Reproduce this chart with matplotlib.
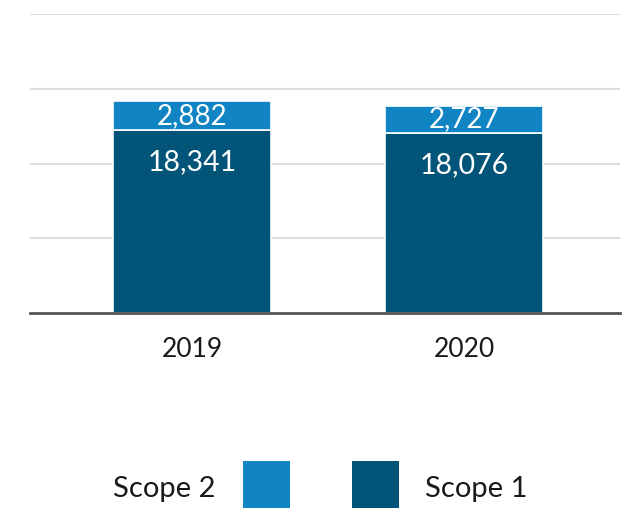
import matplotlib
matplotlib.use("Agg")
import matplotlib.pyplot as plt
from matplotlib.patches import Rectangle

plt.rcParams['font.family'] = ['Lato', 'DejaVu Sans']

years = ["2019", "2020"]
scope1 = [18341, 18076]
scope2 = [2882, 2727]
labels_s1 = ["18,341", "18,076"]
labels_s2 = ["2,882", "2,727"]
series_names = ["Scope 2", "Scope 1"]
c_s1 = "#025578"
c_s2 = "#1185C4"

fig = plt.figure(figsize=(6.34, 5.08), dpi=100)
ax = fig.add_axes([30/634, 1-313/508, 590/634, 299/508])

x = list(range(len(years)))
w = 0.58
ax.bar(x, scope1, width=w, color=c_s1, edgecolor="white", linewidth=1.2, zorder=3)
ax.bar(x, scope2, width=w, bottom=scope1, color=c_s2, edgecolor="white", linewidth=1.2, zorder=3)

for xi, s1, s2, l1, l2 in zip(x, scope1, scope2, labels_s1, labels_s2):
    ax.text(xi, s1 + s2/2, l2, ha="center", va="center", color="white", fontsize=20, zorder=4)
    ax.annotate(l1, (xi, s1), xytext=(0, -23), textcoords="offset points",
                ha="center", va="center", color="white", fontsize=20.5, zorder=4)

ax.set_xlim(-0.596, 1.574)
ax.set_ylim(0, 30000)
ax.set_yticks([7500, 15000, 22500, 30000])
ax.yaxis.grid(True, color="#dddddd", linewidth=1.5, zorder=0)
ax.set_axisbelow(True)
ax.tick_params(axis="y", left=False, labelleft=False)
ax.tick_params(axis="x", bottom=False, labelsize=19, labelcolor="#1a1a1a", pad=14)
ax.set_xticks(x)
ax.set_xticklabels(years)
for s in ["top", "left", "right"]:
    ax.spines[s].set_visible(False)
ax.spines["bottom"].set_color("#555555")
ax.spines["bottom"].set_linewidth(2)
ax.spines["bottom"].set_zorder(5)

# custom legend
H = 508
def fy(py):
    return 1 - py / H
fig.text(113/634, fy(489), series_names[0], ha="left", va="center", fontsize=21, color="#1a1a1a")
fig.patches.append(Rectangle((243/634, fy(508)), 47/634, 47/H, transform=fig.transFigure,
                             facecolor=c_s2, edgecolor="none"))
fig.patches.append(Rectangle((352/634, fy(508)), 47/634, 47/H, transform=fig.transFigure,
                             facecolor=c_s1, edgecolor="none"))
fig.text(425/634, fy(489), series_names[1], ha="left", va="center", fontsize=21, color="#1a1a1a")

fig.savefig("out.png", dpi=100)
